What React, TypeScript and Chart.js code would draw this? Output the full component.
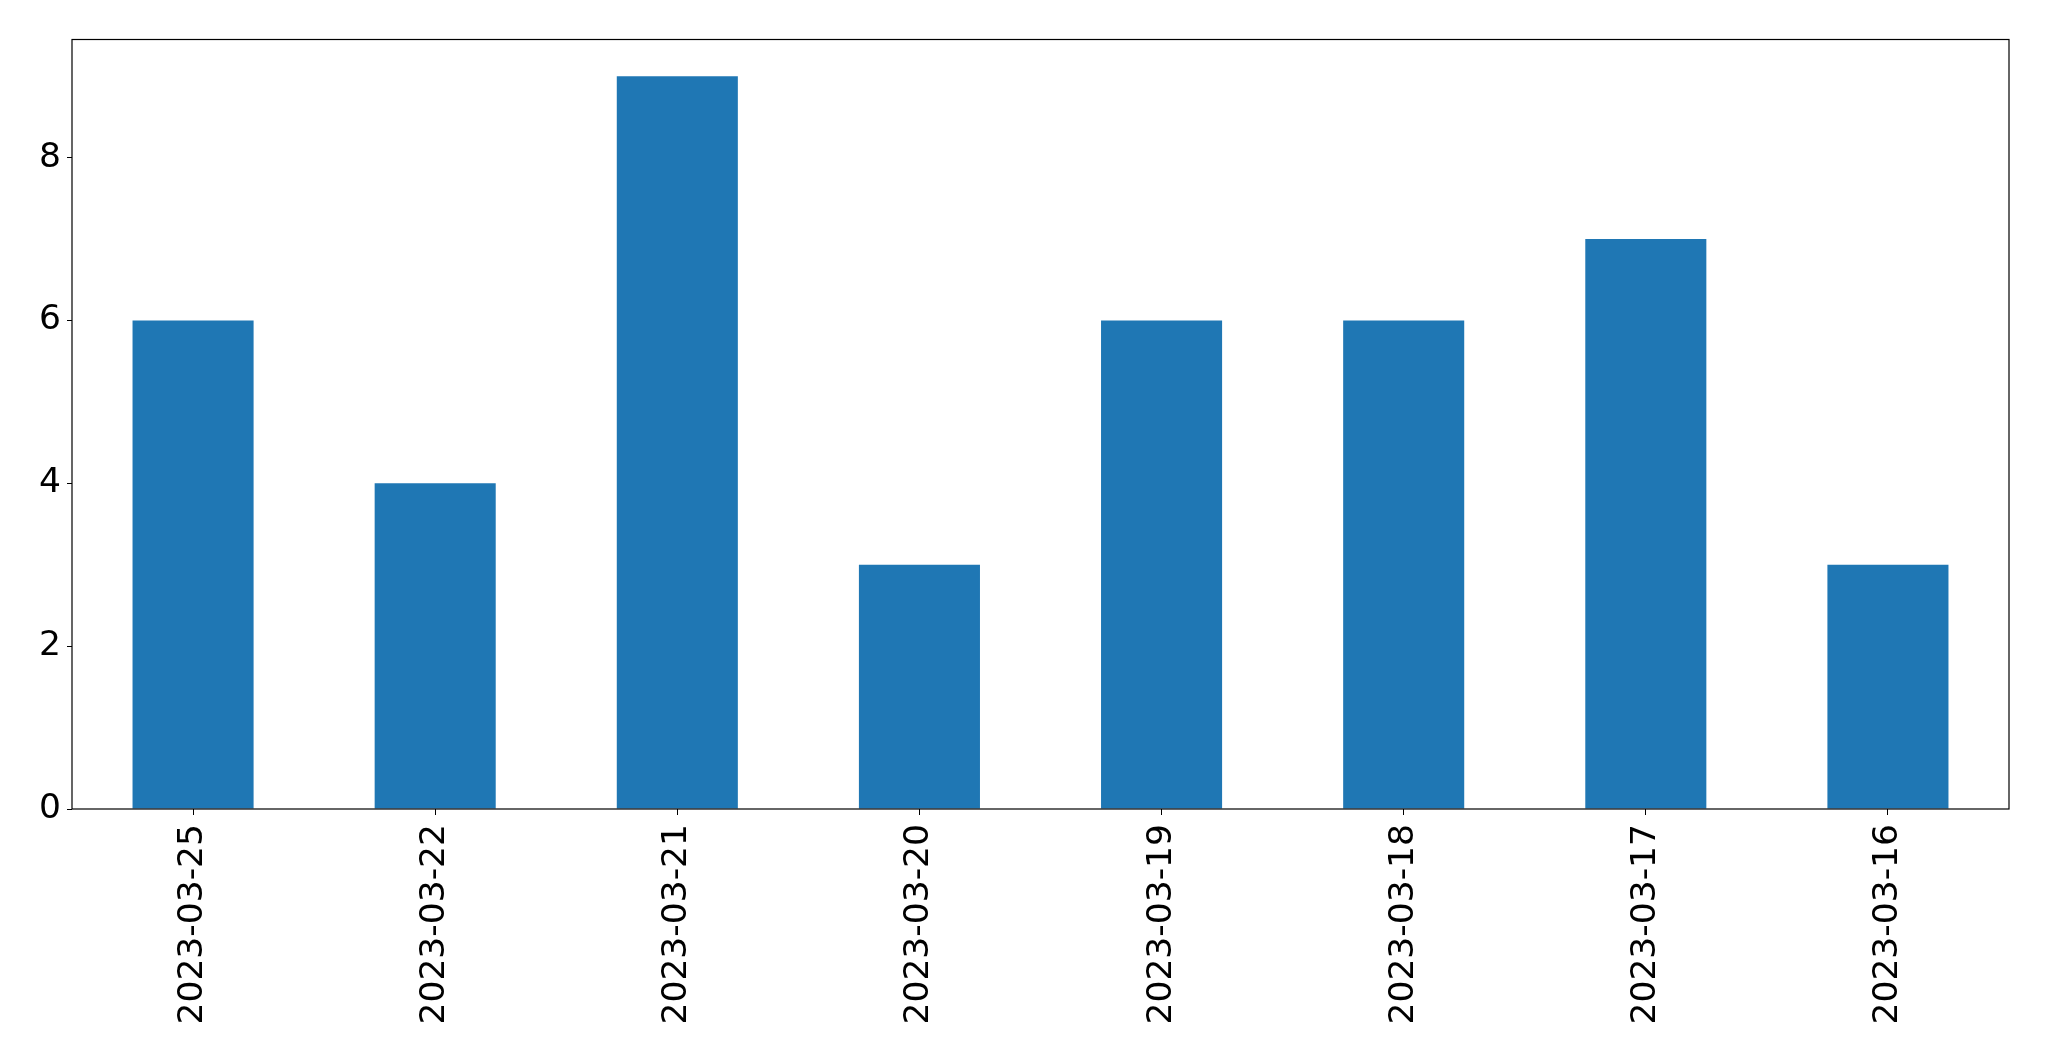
import React, { useEffect, useRef } from "react";
import { Chart, registerables } from "chart.js";

Chart.register(...registerables);

const categories = ["2023-03-25", "2023-03-22", "2023-03-21", "2023-03-20", "2023-03-19", "2023-03-18", "2023-03-17", "2023-03-16"];
const counts = [6, 4, 9, 3, 6, 6, 7, 3];
const yTicks = [0, 2, 4, 6, 8];

const W = 2049;
const H = 1061;

const frame = {
  id: "frame",
  afterDatasetsDraw(chart: any) {
    const { ctx, chartArea } = chart;
    ctx.save();
    ctx.strokeStyle = "#000";
    ctx.lineWidth = 1.2;
    ctx.strokeRect(chartArea.left, chartArea.top, chartArea.right - chartArea.left, chartArea.bottom - chartArea.top);
    ctx.restore();
  },
};

export default function App() {
  const ref = useRef<HTMLCanvasElement>(null);
  useEffect(() => {
    if (!ref.current) return;
    const chart = new Chart(ref.current, {
      type: "bar",
      data: {
        labels: categories,
        datasets: [
          {
            data: counts,
            backgroundColor: "#1f77b4",
            borderWidth: 0,
            barPercentage: 0.5,
            categoryPercentage: 1,
          },
        ],
      },
      plugins: [frame],
      options: {
        responsive: false,
        animation: false,
        devicePixelRatio: 1,
        layout: { padding: { left: 0, top: 39.5, right: 40, bottom: 0 } },
        plugins: { legend: { display: false }, tooltip: { enabled: false } },
        scales: {
          x: {
            type: "category",
            offset: true,
            grid: { display: true, drawOnChartArea: false, drawTicks: true, tickLength: 6, color: "#000", offset: false },
            border: { display: false },
            ticks: {
              color: "#000",
              font: { family: "DejaVu Sans", size: 34.5 },
              minRotation: 90,
              maxRotation: 90,
              padding: 9,
              autoSkip: false,
            },
            afterFit(scale: any) {
              scale.height = 252;
            },
          },
          y: {
            type: "linear",
            min: 0,
            max: 9.45,
            grid: { display: true, drawOnChartArea: false, drawTicks: true, tickLength: 5, color: "#000" },
            border: { display: false },
            ticks: {
              color: "#000",
              font: { family: "DejaVu Sans", size: 34.5 },
              padding: 6,
            },
            afterBuildTicks(scale: any) {
              scale.ticks = yTicks.map((v) => ({ value: v }));
            },
            afterFit(scale: any) {
              scale.width = 72;
            },
          },
        },
      },
    });
    return () => chart.destroy();
  }, []);
  return (
    <div style={{ position: "fixed", left: 0, top: 0, width: W, height: H, background: "#fff" }}>
      <canvas ref={ref} width={W} height={H} style={{ width: W, height: H, display: "block" }} />
    </div>
  );
}
